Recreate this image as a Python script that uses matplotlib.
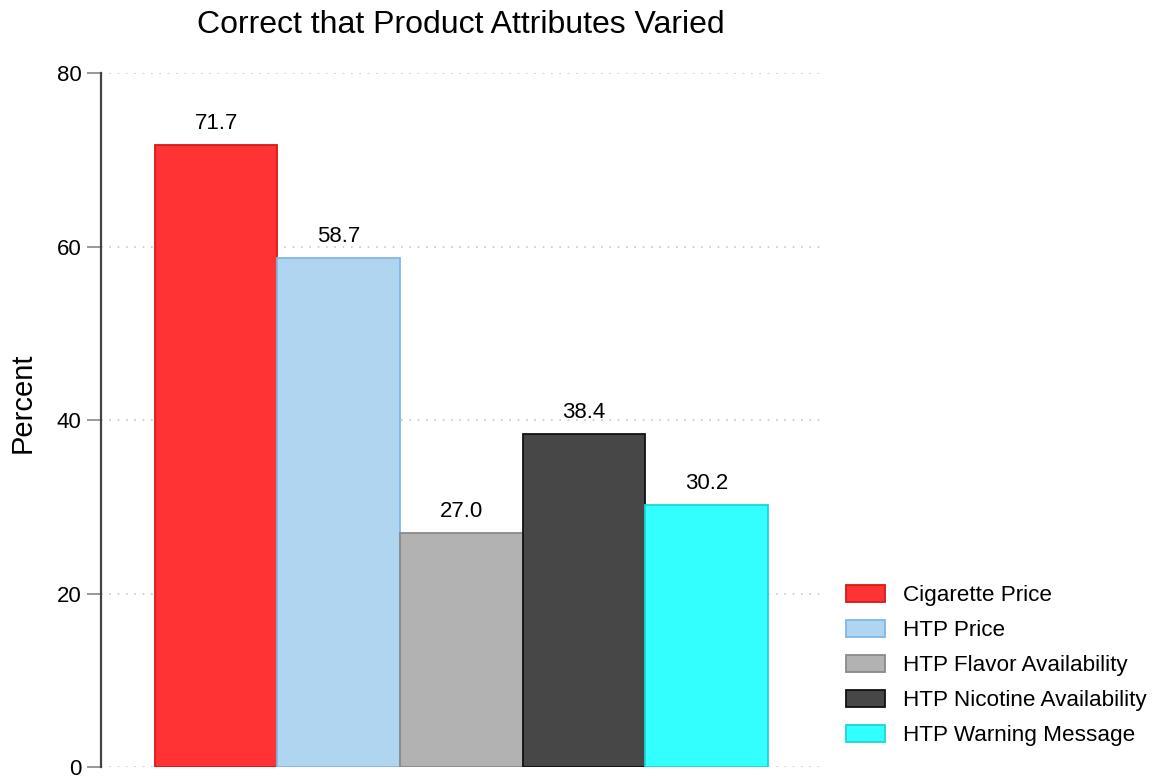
import matplotlib.pyplot as plt
import numpy as np

plt.rcParams['font.family'] = ['Liberation Sans', 'DejaVu Sans']

labels = ["Cigarette Price", "HTP Price", "HTP Flavor Availability",
          "HTP Nicotine Availability", "HTP Warning Message"]
values = [71.7, 58.7, 27.0, 38.4, 30.2]
fills = ["#ff3333", "#afd5f0", "#b2b2b2", "#474747", "#33ffff"]
edges = ["#d81818", "#80b8e4", "#8a8a8a", "#111111", "#1cd6d6"]
yticks = [0, 20, 40, 60, 80]

fig = plt.figure(figsize=(11.55, 7.78), dpi=100)
ax = fig.add_axes([0.0874, 0.0141, 0.623, 0.892])

x = np.arange(len(values))
bars = ax.bar(x, values, width=1.0, color=fills, edgecolor=edges,
              linewidth=1.3, zorder=3)

for xi, v in zip(x, values):
    ax.text(xi, v + 1.25, f"{v:.1f}", ha="center", va="bottom", fontsize=16)

ax.set_xlim(-0.94, 4.93)
ax.set_ylim(0, 80)
ax.set_yticks(yticks)
ax.set_xticks([])
ax.tick_params(axis="y", length=10, width=1.2, color="#888888",
               labelsize=16, pad=4)
ax.grid(axis="y", linestyle=(0, (1, 4)), color="#c8c8c8", linewidth=1.2, zorder=0)
for s in ["top", "right", "bottom"]:
    ax.spines[s].set_visible(False)
ax.spines["left"].set_color("#444444")
ax.spines["left"].set_linewidth(1.6)

ax.set_ylabel("Percent", fontsize=21)
ax.yaxis.set_label_coords(-0.090, 0.525)
ax.set_title("Correct that Product Attributes Varied", fontsize=23, pad=29)

fig.legend(handles=list(bars), labels=labels, loc="lower left",
           bbox_to_anchor=(0.715, 0.015), frameon=False, fontsize=16.2,
           handlelength=1.75, handleheight=0.8, handletextpad=0.8,
           labelspacing=0.6)

fig.savefig("out.png", dpi=100)
